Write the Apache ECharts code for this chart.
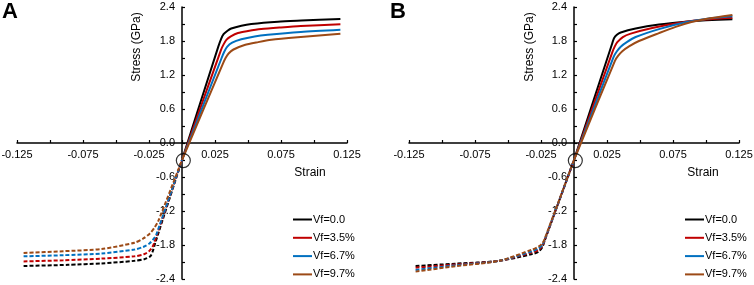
<!DOCTYPE html>
<html>
<head>
<meta charset="utf-8">
<script src="https://cdn.jsdelivr.net/npm/echarts@6/dist/echarts.min.js"></script>
<style>
  html, body { margin: 0; padding: 0; background: #fff; }
  #chart { width: 754px; height: 285px; }
</style>
</head>
<body>
<div id="chart"></div>
<script>
// legend names and line colours
const names = ["Vf=0.0", "Vf=3.5%", "Vf=6.7%", "Vf=9.7%"];
const colors = ["#000000", "#c00000", "#0070c0", "#9c4a16"];

// panel A, [strain, stress GPa]
const tensionA = [
  [[0, -0.3], [0.0275, 1.70], [0.0295, 1.83], [0.0315, 1.92], [0.0345, 1.98], [0.0373, 2.02], [0.045, 2.07], [0.0525, 2.10], [0.0727, 2.14], [0.0904, 2.16], [0.12, 2.19]],
  [[0, -0.3], [0.0295, 1.64], [0.0315, 1.74], [0.0336, 1.82], [0.037, 1.88], [0.0424, 1.94], [0.05, 1.975], [0.06, 2.01], [0.075, 2.04], [0.09, 2.065], [0.12, 2.095]],
  [[0, -0.3], [0.030, 1.50], [0.032, 1.61], [0.0343, 1.70], [0.038, 1.77], [0.0449, 1.83], [0.055, 1.88], [0.065, 1.91], [0.09, 1.96], [0.12, 2.0]],
  [[0, -0.3], [0.031, 1.40], [0.033, 1.50], [0.0353, 1.58], [0.039, 1.65], [0.0474, 1.73], [0.0577, 1.78], [0.0677, 1.82], [0.09, 1.87], [0.12, 1.93]]
];
const compressionA = [
  [[-0.12, -2.17], [-0.0864, -2.15], [-0.061, -2.125], [-0.036, -2.08], [-0.0285, -2.05], [-0.024, -2.0], [-0.022, -1.90], [-0.0205, -1.78], [0, -0.3]],
  [[-0.12, -2.09], [-0.09, -2.07], [-0.061, -2.04], [-0.036, -2.0], [-0.0285, -1.96], [-0.025, -1.91], [-0.0225, -1.84], [-0.021, -1.76], [0, -0.3]],
  [[-0.12, -2.0], [-0.09, -1.98], [-0.061, -1.95], [-0.036, -1.88], [-0.029, -1.83], [-0.0245, -1.77], [-0.0215, -1.69], [-0.0195, -1.62], [0, -0.3]],
  [[-0.12, -1.94], [-0.09, -1.91], [-0.061, -1.87], [-0.036, -1.76], [-0.029, -1.68], [-0.0245, -1.60], [-0.021, -1.50], [-0.018, -1.38], [0, -0.3]]
];

// panel B
const tensionB = [
  [[0, -0.3], [0.027, 1.62], [0.029, 1.76], [0.0303, 1.85], [0.0325, 1.91], [0.0354, 1.95], [0.0467, 2.02], [0.0644, 2.09], [0.0846, 2.14], [0.1, 2.165], [0.12, 2.185]],
  [[0, -0.3], [0.029, 1.60], [0.031, 1.71], [0.0328, 1.78], [0.037, 1.87], [0.043, 1.93], [0.0593, 2.03], [0.0846, 2.14], [0.1, 2.18], [0.12, 2.21]],
  [[0, -0.3], [0.030, 1.52], [0.0325, 1.62], [0.0354, 1.70], [0.040, 1.78], [0.0467, 1.87], [0.0644, 2.01], [0.0846, 2.13], [0.1, 2.19], [0.12, 2.235]],
  [[0, -0.3], [0.031, 1.45], [0.0335, 1.54], [0.0366, 1.62], [0.042, 1.71], [0.0492, 1.80], [0.0644, 1.94], [0.077, 2.05], [0.0896, 2.14], [0.1, 2.19], [0.12, 2.26]]
];
const compressionB = [
  [[-0.12, -2.17], [-0.09, -2.13], [-0.0568, -2.08], [-0.0316, -1.96], [-0.027, -1.92], [-0.024, -1.84], [-0.0222, -1.72], [0, -0.3]],
  [[-0.12, -2.20], [-0.09, -2.145], [-0.0568, -2.08], [-0.0316, -1.93], [-0.027, -1.89], [-0.024, -1.82], [-0.0222, -1.72], [0, -0.3]],
  [[-0.12, -2.24], [-0.09, -2.16], [-0.0568, -2.08], [-0.0316, -1.91], [-0.027, -1.86], [-0.024, -1.80], [-0.0222, -1.71], [0, -0.3]],
  [[-0.12, -2.27], [-0.09, -2.175], [-0.0568, -2.08], [-0.0316, -1.88], [-0.027, -1.83], [-0.024, -1.77], [-0.0222, -1.69], [0, -0.3]]
];

// circled point near the origin
const circlePoint = [[0.001, -0.31]];

// tick labels shown on the axes
const xLabelValues = [-0.125, -0.075, -0.025, 0.025, 0.075, 0.125];
const yLabelValues = [-2.4, -1.8, -1.2, -0.6, 0, 0.6, 1.2, 1.8, 2.4];

const font = "Liberation Sans, Arial, sans-serif";
const gridW = 330, gridH = 272;

function hasValue(list, v) {
  return list.some(t => Math.abs(t - v) < 1e-9);
}

// axes are pulled into the middle of the grid so they cross at (0, 0)
function makeXAxis(gridIndex) {
  return {
    type: "value", gridIndex: gridIndex, position: "bottom", offset: -gridH / 2,
    min: -0.125, max: 0.125, interval: 0.025,
    axisLine: { onZero: false, lineStyle: { color: "#000", width: 1.5 } },
    axisTick: { inside: true, length: 3, lineStyle: { color: "#000", width: 1.2 } },
    splitLine: { show: false },
    axisLabel: {
      showMinLabel: true, showMaxLabel: true, margin: 6,
      color: "#000", fontSize: 11, fontFamily: font,
      formatter: v => hasValue(xLabelValues, v) ? v.toFixed(3) : ""
    }
  };
}

function makeYAxis(gridIndex) {
  return {
    type: "value", gridIndex: gridIndex, position: "left", offset: -gridW / 2,
    min: -2.4, max: 2.4, interval: 0.3,
    axisLine: { show: true, onZero: false, lineStyle: { color: "#000", width: 1.5 } },
    axisTick: { show: true, inside: true, length: 3, lineStyle: { color: "#000", width: 1.2 } },
    splitLine: { show: false },
    axisLabel: {
      showMinLabel: true, showMaxLabel: true, margin: 7,
      color: "#000", fontSize: 11, fontFamily: font,
      formatter: v => hasValue(yLabelValues, v) ? v.toFixed(1) : ""
    }
  };
}

const series = [];
[[tensionA, compressionA], [tensionB, compressionB]].forEach((panel, g) => {
  // solid first so the legend picks the solid style
  panel[0].forEach((d, i) => {
    series.push({
      name: names[i], type: "line", xAxisIndex: g, yAxisIndex: g,
      data: d, symbol: "none", smooth: 0.25,
      lineStyle: { color: colors[i], width: 2 }, itemStyle: { color: colors[i] }
    });
  });
  panel[1].forEach((d, i) => {
    series.push({
      name: names[i], type: "line", xAxisIndex: g, yAxisIndex: g,
      data: d, symbol: "none", smooth: 0.25,
      lineStyle: { color: colors[i], width: 2, type: [4, 2] }, itemStyle: { color: colors[i] }
    });
  });
  series.push({
    type: "scatter", xAxisIndex: g, yAxisIndex: g, data: circlePoint,
    symbol: "circle", symbolSize: 14, z: 5, silent: true,
    itemStyle: { color: "rgba(0,0,0,0)", borderColor: "#000", borderWidth: 1.2 }
  });
});

function makeLegend(left) {
  return {
    data: names, orient: "vertical", left: left, top: 214, height: 72, padding: 0,
    icon: "rect", itemWidth: 19, itemHeight: 2, itemGap: 7.3,
    textStyle: { color: "#000", fontSize: 11, fontFamily: font, padding: [0, 0, 0, -4] }
  };
}

function label(text, x, y, opts) {
  return Object.assign({
    type: "text", x: x, y: y,
    style: { text: text, fill: "#000", font: "12px " + font, align: "center", verticalAlign: "middle" }
  }, opts || {});
}

const chart = echarts.init(document.getElementById("chart"), null, { renderer: "canvas" });
chart.setOption({
  animation: false,
  backgroundColor: "#fff",
  grid: [
    { left: 17, top: 7, width: gridW, height: gridH, containLabel: false, outerBoundsMode: "none" },
    { left: 409, top: 7, width: gridW, height: gridH, containLabel: false, outerBoundsMode: "none" }
  ],
  xAxis: [makeXAxis(0), makeXAxis(1)],
  yAxis: [makeYAxis(0), makeYAxis(1)],
  legend: [makeLegend(293), makeLegend(685)],
  graphic: [
    label("A", 10, 12, { style: { text: "A", fill: "#000", font: "bold 22px " + font, align: "center", verticalAlign: "middle" } }),
    label("B", 398, 12, { style: { text: "B", fill: "#000", font: "bold 22px " + font, align: "center", verticalAlign: "middle" } }),
    label("Stress (GPa)", 137, 47, { rotation: Math.PI / 2 }),
    label("Stress (GPa)", 530, 47, { rotation: Math.PI / 2 }),
    label("Strain", 310, 173),
    label("Strain", 703, 173)
  ],
  series: series
});
</script>
</body>
</html>
